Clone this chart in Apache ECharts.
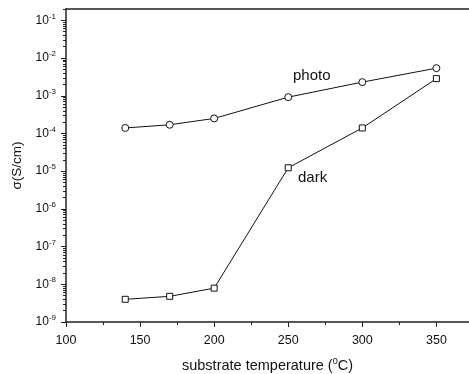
<!DOCTYPE html>
<html>
<head>
<meta charset="utf-8">
<script src="https://cdn.jsdelivr.net/npm/echarts@6/dist/echarts.min.js"></script>
<style>
  html, body { margin: 0; padding: 0; background: #fff; }
  #chart { width: 469px; height: 374px; }
</style>
</head>
<body>
<div id="chart"></div>
<script>
// substrate temperature (C)
var temps = [140, 170, 200, 250, 300, 350];
// conductivity, S/cm
var photo = [1.4e-4, 1.7e-4, 2.5e-4, 9.2e-4, 2.3e-3, 5.4e-3];
var dark = [4.0e-9, 4.8e-9, 7.9e-9, 1.23e-5, 1.4e-4, 2.85e-3];
var xTicks = [100, 150, 200, 250, 300, 350];
var xMinorTicks = [125, 175, 225, 275, 325];
var yDecades = [-9, -8, -7, -6, -5, -4, -3, -2, -1];

var yMajor = yDecades.map(function (d) { return Math.pow(10, d); });
var yMinor = [];
yDecades.forEach(function (d) {
  for (var m = 2; m <= 9; m++) yMinor.push(m * Math.pow(10, d));
});

function pairs(ys) {
  return temps.map(function (t, i) { return [t, ys[i]]; });
}

var font = 'Liberation Sans, Arial, sans-serif';
var axisColor = '#222';

var myChart = echarts.init(document.getElementById('chart'));
var option = {
  animation: false,
  textStyle: { fontFamily: font },
  grid: { left: 66, top: 9, right: 0, bottom: 52, containLabel: false, outerBoundsMode: 'none' },
  xAxis: [{
    type: 'value', min: 100, max: 372, position: 'bottom',
    splitLine: { show: false },
    axisLine: { lineStyle: { color: axisColor, width: 1.5 } },
    axisTick: { customValues: xTicks, length: 5, lineStyle: { color: axisColor } },
    axisLabel: { customValues: xTicks, color: '#111', fontSize: 12.5, margin: 12, fontFamily: font },
    name: 'substrate temperature ({s|0}C)',
    nameLocation: 'middle', nameGap: 35,
    nameTextStyle: {
      color: '#111', fontSize: 14.5, fontFamily: font,
      rich: { s: { fontSize: 9, verticalAlign: 'top', padding: [0, 0, 8, 0], fontFamily: font, color: '#111' } }
    }
  }, {
    type: 'value', min: 100, max: 372, position: 'bottom',
    splitLine: { show: false },
    axisLine: { show: false },
    axisTick: { customValues: xMinorTicks, length: 3, lineStyle: { color: axisColor } },
    axisLabel: { show: false }
  }, {
    type: 'value', min: 100, max: 372, position: 'top',
    splitLine: { show: false },
    axisLine: { lineStyle: { color: axisColor, width: 1.5 } },
    axisTick: { show: false },
    axisLabel: { show: false }
  }],
  yAxis: [{
    type: 'log', min: 1e-9, max: 0.2, position: 'left',
    splitLine: { show: false },
    axisLine: { lineStyle: { color: axisColor, width: 1.5 } },
    axisTick: { customValues: yMajor, length: 5, lineStyle: { color: axisColor } },
    axisLabel: {
      customValues: yMajor, margin: 10, color: '#111', fontSize: 12, fontFamily: font,
      formatter: function (v) {
        return '10{s|' + Math.round(Math.log10(v)) + '}';
      },
      rich: { s: { fontSize: 8, verticalAlign: 'top', padding: [0, 0, 8, 0], color: '#111', fontFamily: font } }
    },
    name: 'σ(S/cm)',
    nameLocation: 'middle', nameGap: 41, nameRotate: 90,
    nameTextStyle: { color: '#111', fontSize: 13.5, fontFamily: font }
  }, {
    type: 'log', min: 1e-9, max: 0.2, position: 'left',
    splitLine: { show: false },
    axisLine: { show: false },
    axisTick: { customValues: yMinor, length: 3, lineStyle: { color: axisColor } },
    axisLabel: { show: false }
  }],
  series: [{
    name: 'photo', type: 'line', data: pairs(photo),
    symbol: 'circle', symbolSize: 7,
    itemStyle: { color: '#fff', borderColor: '#111', borderWidth: 1 },
    lineStyle: { color: '#111', width: 1 }
  }, {
    name: 'dark', type: 'line', data: pairs(dark),
    symbol: 'rect', symbolSize: 6,
    itemStyle: { color: '#fff', borderColor: '#111', borderWidth: 1 },
    lineStyle: { color: '#111', width: 1 }
  }],
  graphic: [
    { type: 'text', left: 293, top: 68, style: { text: 'photo', fontSize: 15, fontFamily: font, fill: '#111' } },
    { type: 'text', left: 298, top: 170, style: { text: 'dark', fontSize: 15, fontFamily: font, fill: '#111' } }
  ]
};
myChart.setOption(option);
</script>
</body>
</html>
